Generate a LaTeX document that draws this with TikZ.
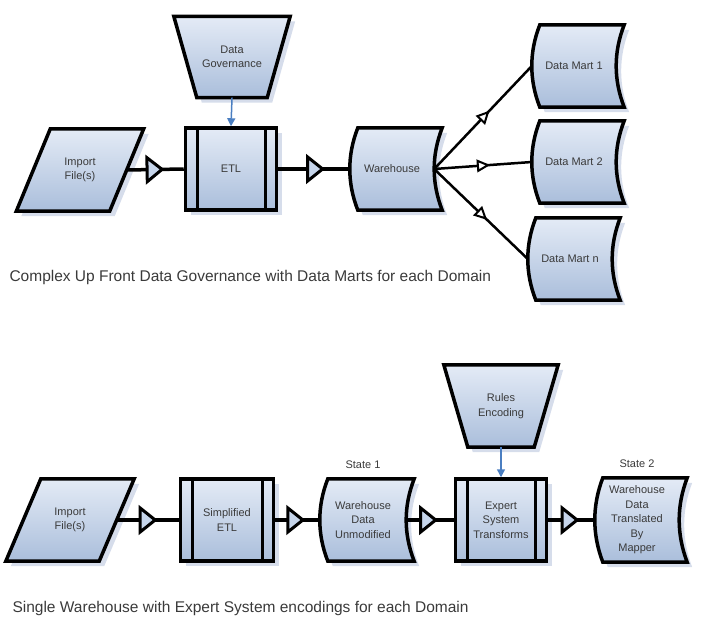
\documentclass[tikz,border=0pt]{standalone}
\usepackage{fontspec}
\setmainfont{Liberation Sans}
\usetikzlibrary{arrows.meta,decorations.markings,shadows,calc,backgrounds}

\definecolor{shapetop}{RGB}{228,235,246}
\definecolor{shapebot}{RGB}{170,190,219}
\definecolor{shapemid}{RGB}{198,213,235}
\definecolor{shadowcol}{RGB}{214,221,235}
\definecolor{govblue}{RGB}{74,126,193}
\definecolor{labeltext}{RGB}{58,58,58}

% outlines drawn behind the nodes
\newcommand\storedbody[1]{%
  \begin{scope}[on background layer]
    \path[shapeline] ([xshift=8pt]#1.north west) -- ([xshift=8pt]#1.north east)
      .. controls ($(#1.north east)!1/3!(#1.south east)+(-2.7pt,0)$)
      and ($(#1.north east)!2/3!(#1.south east)+(-2.7pt,0)$) .. ([xshift=8pt]#1.south east)
      -- ([xshift=8pt]#1.south west)
      .. controls ($(#1.south west)!1/3!(#1.north west)+(-2.7pt,0)$)
      and ($(#1.south west)!2/3!(#1.north west)+(-2.7pt,0)$) .. ([xshift=8pt]#1.north west)
      -- cycle;
  \end{scope}}
\newcommand\inputbody[2]{%
  \begin{scope}[on background layer]
    \path[shapeline] ([xshift=#2]#1.north west) -- ([xshift=#2]#1.north east)
      -- ([xshift=-#2]#1.south east) -- ([xshift=-#2]#1.south west) -- cycle;
  \end{scope}}
\newcommand\manualbody[2]{%
  \begin{scope}[on background layer]
    \path[shapeline] ([xshift=-#2]#1.north west) -- ([xshift=#2]#1.north east)
      -- (#1.south east) -- (#1.south west) -- cycle;
  \end{scope}}

\begin{document}
\begin{tikzpicture}
  [x=1pt,y=-1pt,
   every node/.style={text=labeltext,font=\fontsize{11}{14.5}\selectfont,align=center},
   shapeline/.style={draw=black,line width=3.5pt,line join=miter,
     top color=shapetop,bottom color=shapebot,
     drop shadow={shadow xshift=5pt,shadow yshift=-5pt,fill=shadowcol,opacity=1}},
   procbox/.style={shapeline,rectangle,minimum width=91pt,minimum height=82pt,
     path picture={\draw[line width=3.5pt]
       ([xshift=12pt]path picture bounding box.north west) -- ([xshift=12pt]path picture bounding box.south west)
       ([xshift=-11pt]path picture bounding box.north east) -- ([xshift=-11pt]path picture bounding box.south east);}},
   plainbox/.style={rectangle,minimum height=82pt},
   storebox/.style={rectangle,minimum width=84pt,minimum height=82pt},
   statelabel/.style={label={[label distance=7pt]above:#1}},
   caption/.style={anchor=west,font=\fontsize{15.5}{18}\selectfont},
   flow/.style={line width=3.5pt,postaction={decorate},decoration={markings,
     mark=at position 0.62 with {\draw[line width=3pt,line join=miter,fill=shapemid]
       (-15pt,-12pt) -- (0pt,0pt) -- (-15pt,12pt) -- cycle;}}},
   martflow/.style={line width=2.5pt,postaction={decorate},decoration={markings,
     mark=at position 0.55 with {\draw[line width=2pt,line join=miter,fill=white]
       (-10pt,-5pt) -- (0pt,0pt) -- (-10pt,5pt) -- cycle;}}},
   govflow/.style={draw=govblue,line width=1.5pt,-{Triangle[length=8pt,width=8pt]}}]
  \useasboundingbox (0,0) rectangle (706,623);

  % upper chart
  \node[plainbox,minimum width=70pt,minimum height=81pt] (dgov) at (232,57) {Data\\Governance};
  \node[plainbox,minimum width=93pt] (imp1) at (80,170) {Import\\File(s)};
  \node[procbox] (etl) at (231,169) {ETL};
  \node[storebox] (wh) at (392,169) {Warehouse};
  \node[storebox] (dm1) at (574,66) {Data Mart 1};
  \node[storebox] (dm2) at (574,162) {Data Mart 2};
  \node[storebox] (dmn) at (570,259) {Data Mart n};
  \manualbody{dgov}{23pt}
  \inputbody{imp1}{17pt}
  \storedbody{wh}
  \storedbody{dm1}
  \storedbody{dm2}
  \storedbody{dmn}
  \draw[govflow] (dgov.south) -- (etl.north);
  \draw[flow] (imp1.east) -- (etl.west);
  \draw[flow] (etl.east) -- (wh.west);
  \draw[martflow] (wh.east) -- (dm1.west);
  \draw[martflow] (wh.east) -- (dm2.west);
  \draw[martflow] (wh.east) -- (dmn.west);
  \node[caption] (cap1) at (6,277) {Complex Up Front Data Governance with Data Marts for each Domain};

  % lower chart
  \node[plainbox,minimum width=66pt] (rules) at (501,406) {Rules\\Encoding};
  \node[plainbox,minimum width=93pt] (imp2) at (70,520) {Import\\File(s)};
  \node[procbox,minimum width=93pt] (setl) at (227,520) {Simplified\\ETL};
  \node[storebox,minimum width=86pt,statelabel=State 1] (wdu) at (363,520) {Warehouse\\Data\\Unmodified};
  \node[procbox] (est) at (501,520) {Expert\\System\\Transforms};
  \node[storebox,minimum height=84pt,statelabel=State 2] (wdt) at (637,520) {Warehouse\\Data\\Translated\\By\\Mapper};
  \manualbody{rules}{24pt}
  \inputbody{imp2}{17.5pt}
  \storedbody{wdu}
  \storedbody{wdt}
  \draw[govflow] (rules.south) -- (est.north);
  \draw[flow] (imp2.east) -- (setl.west);
  \draw[flow] (setl.east) -- (wdu.west);
  \draw[flow] (wdu.east) -- (est.west);
  \draw[flow] (est.east) -- (wdt.west);
  \node[caption] (cap2) at (9,608) {Single Warehouse with Expert System encodings for each Domain};
\end{tikzpicture}
\end{document}
